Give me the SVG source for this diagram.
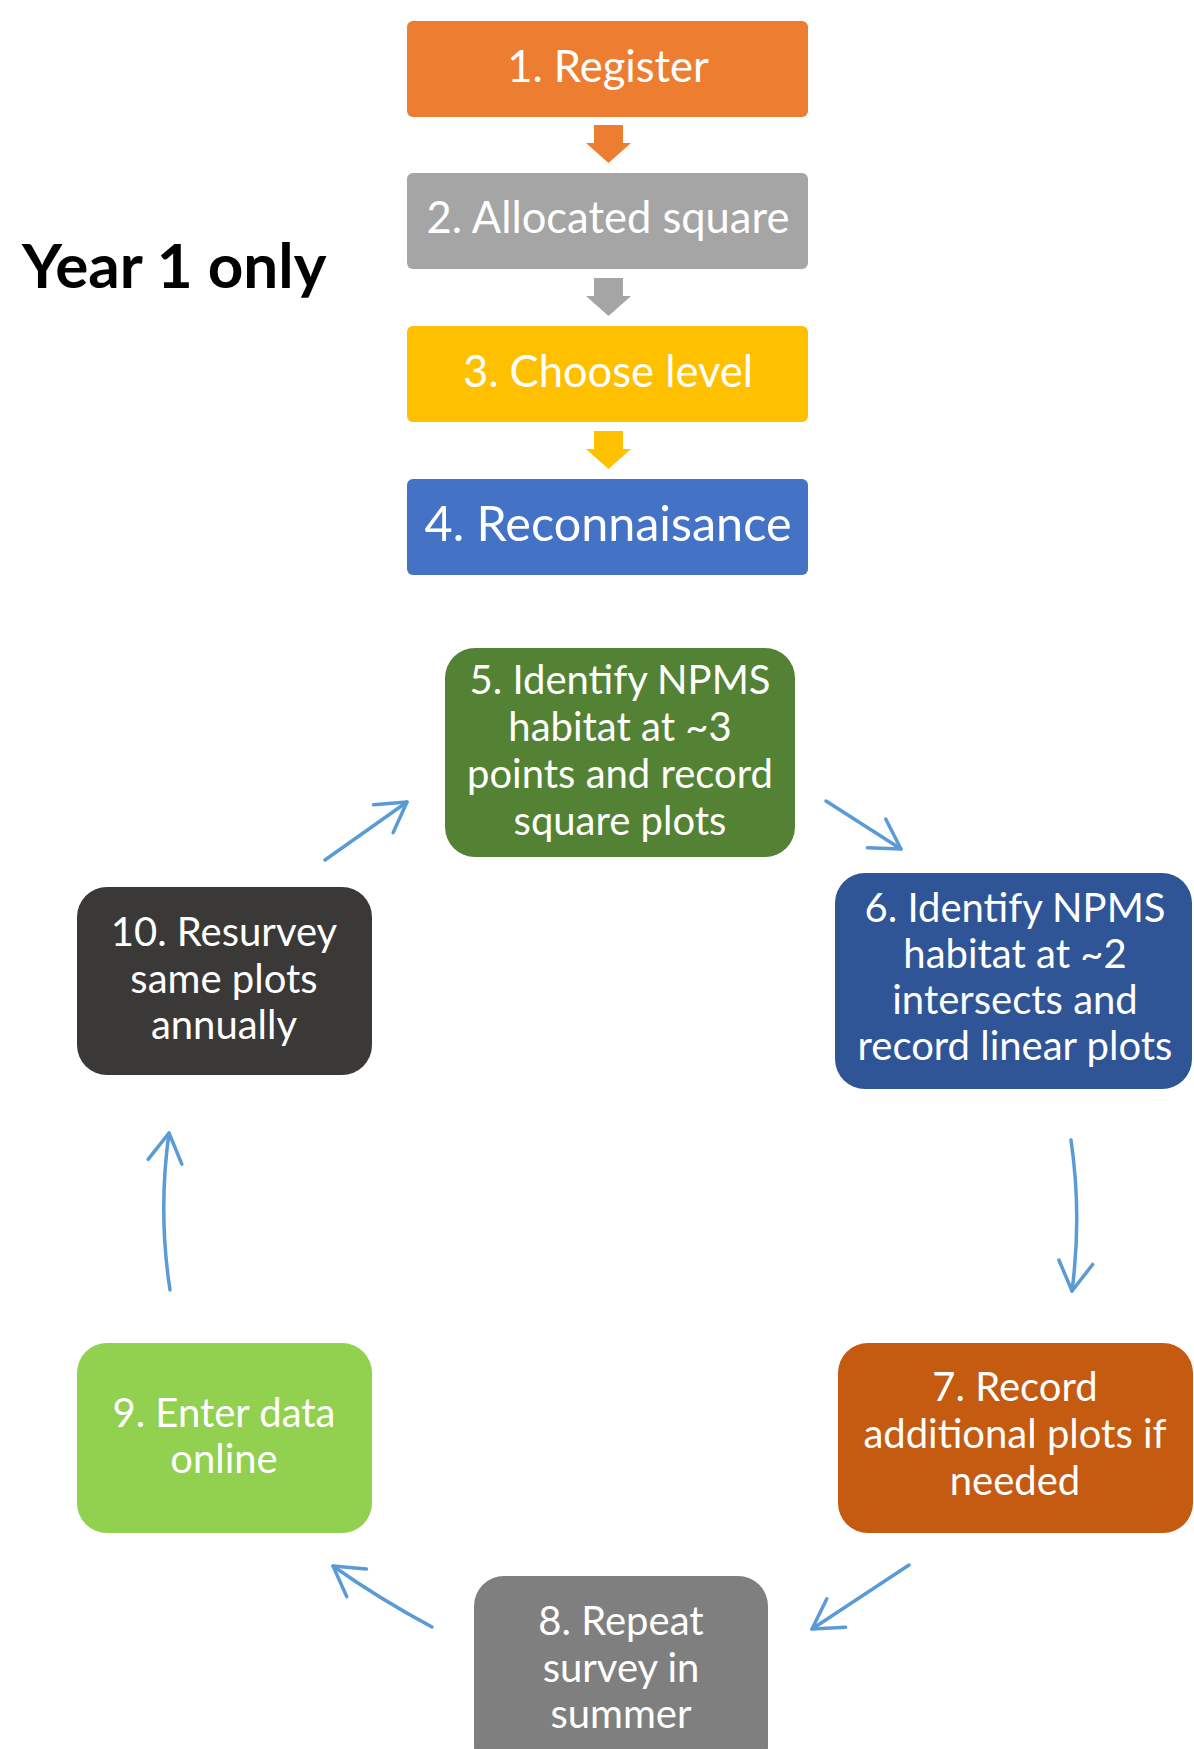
<svg xmlns="http://www.w3.org/2000/svg" width="1194" height="1749" viewBox="0 0 1194 1749">
<style>
  .t { font-family: Lato, "Open Sans", "Liberation Sans", sans-serif; fill: #FFFFFF; text-anchor: middle; }
  .top { font-size: 43.5px; }
  .big { font-size: 48.5px; }
  .cyc { font-size: 40px; }
  .conn { fill: none; stroke: #5B9BD5; stroke-width: 3.5; stroke-linecap: round; }
  .title { font-family: Lato, "Open Sans", "Liberation Sans", sans-serif; font-weight: bold; font-size: 62px; fill: #000000; }
</style>
<defs>
  <marker id="head" markerWidth="40" markerHeight="40" refX="32" refY="20" orient="auto" markerUnits="userSpaceOnUse" overflow="visible">
    <path d="M3,3 L32,20 L3,37" fill="none" stroke="#5B9BD5" stroke-width="3.5" stroke-linecap="round" stroke-linejoin="round"/>
  </marker>
</defs>
<rect x="0" y="0" width="1194" height="1749" fill="#FFFFFF"/>

<text class="title" x="22" y="288">Year 1 only</text>

<g id="n1">
  <rect x="407" y="21" width="401" height="96" rx="6" fill="#ED7D31"/>
  <text class="t top" x="608" y="82">1. Register</text>
</g>
<g id="n2">
  <rect x="407" y="173" width="401" height="96" rx="6" fill="#A5A5A5"/>
  <text class="t top" x="608" y="233">2. Allocated square</text>
</g>
<g id="n3">
  <rect x="407" y="326" width="401" height="96" rx="6" fill="#FFC000"/>
  <text class="t top" x="608" y="387">3. Choose level</text>
</g>
<g id="n4">
  <rect x="407" y="479" width="401" height="96" rx="6" fill="#4472C4"/>
  <text class="t big" x="608" y="541">4. Reconnaisance</text>
</g>

<g id="n5">
  <rect x="445" y="648" width="350" height="209" rx="30" fill="#548235"/>
  <text class="t cyc" x="620" y="694">5. Identify NPMS</text>
  <text class="t cyc" x="620" y="741">habitat at ~3</text>
  <text class="t cyc" x="620" y="788">points and record</text>
  <text class="t cyc" x="620" y="835">square plots</text>
</g>
<g id="n6">
  <rect x="835" y="873" width="357" height="216" rx="30" fill="#2F5597"/>
  <text class="t cyc" x="1015" y="922">6. Identify NPMS</text>
  <text class="t cyc" x="1015" y="968">habitat at ~2</text>
  <text class="t cyc" x="1015" y="1014">intersects and</text>
  <text class="t cyc" x="1015" y="1060">record linear plots</text>
</g>
<g id="n7">
  <rect x="838" y="1343" width="355" height="190" rx="30" fill="#C55A11"/>
  <text class="t cyc" x="1015" y="1401">7. Record</text>
  <text class="t cyc" x="1015" y="1448">additional plots if</text>
  <text class="t cyc" x="1015" y="1495">needed</text>
</g>
<g id="n8">
  <rect x="474" y="1576" width="294" height="200" rx="30" fill="#7F7F7F"/>
  <text class="t cyc" x="621" y="1635">8. Repeat</text>
  <text class="t cyc" x="621" y="1682">survey in</text>
  <text class="t cyc" x="621" y="1728">summer</text>
</g>
<g id="n9">
  <rect x="77" y="1343" width="295" height="190" rx="30" fill="#92D050"/>
  <text class="t cyc" x="224" y="1427">9. Enter data</text>
  <text class="t cyc" x="224" y="1473">online</text>
</g>
<g id="n10">
  <rect x="77" y="887" width="295" height="188" rx="30" fill="#3B3838"/>
  <text class="t cyc" x="224" y="946">10. Resurvey</text>
  <text class="t cyc" x="224" y="993">same plots</text>
  <text class="t cyc" x="224" y="1039">annually</text>
</g>

<g id="connectors">
  <polygon points="594,125 623,125 623,143 631,143 608.5,163 586,143 594,143" fill="#ED7D31"/>
  <polygon points="594,278 623,278 623,296 631,296 608.5,316 586,296 594,296" fill="#A5A5A5"/>
  <polygon points="594,431 623,431 623,449 631,449 608.5,469 586,449 594,449" fill="#FFC000"/>
  <path class="conn" d="M325,860 L407,802" marker-end="url(#head)"/>
  <path class="conn" d="M826,801 L901,849" marker-end="url(#head)"/>
  <path class="conn" d="M1071,1140 Q1082,1215 1072,1291" marker-end="url(#head)"/>
  <path class="conn" d="M909,1565 L812,1629" marker-end="url(#head)"/>
  <path class="conn" d="M432,1627 Q378,1598 333,1566" marker-end="url(#head)"/>
  <path class="conn" d="M170,1290 Q158,1212 169,1133" marker-end="url(#head)"/>
</g>
</svg>
